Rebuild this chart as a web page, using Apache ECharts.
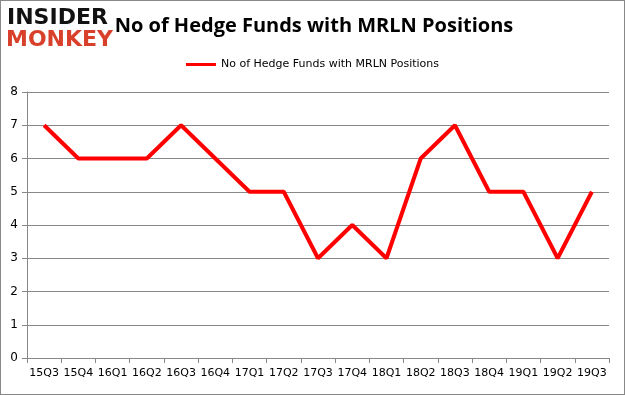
<!DOCTYPE html>
<html><head><meta charset="utf-8">
<script src="https://cdn.jsdelivr.net/npm/echarts@6/dist/echarts.min.js"></script>
<style>html,body{margin:0;padding:0;background:#fff}#c{width:625px;height:395px;box-sizing:border-box;border:1px solid #888}</style>
</head><body><div id="c"></div>
<script>
const categories = ['15Q3','15Q4','16Q1','16Q2','16Q3','16Q4','17Q1','17Q2','17Q3','17Q4','18Q1','18Q2','18Q3','18Q4','19Q1','19Q2','19Q3'];
const seriesName = 'No of Hedge Funds with MRLN Positions';
const values = [7,6,6,6,7,6,5,5,3,4,3,6,7,5,5,3,5];
const yTicks = [0,1,2,3,4,5,6,7,8];

const chart = echarts.init(document.getElementById('c'), null, {renderer:'canvas'});
chart.setOption({
  animation:false,
  title:{text:'No of Hedge Funds with MRLN Positions', left:308, top:10, textAlign:'center',
    textStyle:{fontFamily:'Open Sans', fontWeight:'bold', fontSize:20, color:'#000'}},
  graphic:[
    {type:'text', left:6, top:6, style:{text:'INSIDER', font:'900 22px "DejaVu Sans"', fill:'#111'}},
    {type:'text', left:5, top:28, style:{text:'MONKEY', font:'900 22px "DejaVu Sans"', fill:'#d9402b'}}
  ],
  legend:{data:[seriesName], top:53, left:'center', itemWidth:30, itemHeight:3, icon:'rect',
    textStyle:{fontFamily:'DejaVu Sans', fontSize:11, color:'#000'}},
  grid:{left:26, right:15, top:91, bottom:36},
  xAxis:{type:'category', data:categories, boundaryGap:true,
    axisLine:{lineStyle:{color:'#888'}}, axisTick:{show:true, length:5, lineStyle:{color:'#888'}},
    axisLabel:{fontFamily:'DejaVu Sans', fontSize:11, color:'#000', margin:10, interval:0}},
  yAxis:{type:'value', min:yTicks[0], max:yTicks[yTicks.length-1], interval:1,
    axisLine:{show:true, lineStyle:{color:'#888'}}, axisTick:{show:true, length:5, lineStyle:{color:'#888'}},
    splitLine:{lineStyle:{color:'#888'}},
    axisLabel:{fontFamily:'DejaVu Sans', fontSize:12, color:'#000', margin:9}},
  series:[{name:seriesName, type:'line', data:values, symbol:'none',
    lineStyle:{color:'#ff0000', width:4}, itemStyle:{color:'#ff0000'}}]
});
</script></body></html>
